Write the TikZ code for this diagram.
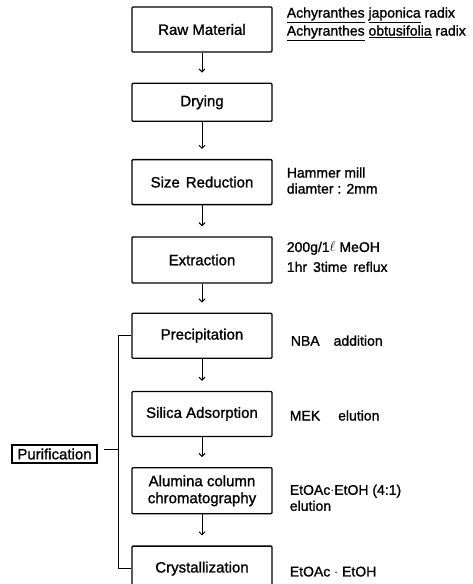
\documentclass[tikz,border=0pt]{standalone}
\usepackage{fontspec}
\setmainfont[FakeBold=1.2]{Liberation Sans}
\usetikzlibrary{arrows.meta,positioning,calc}

\begin{document}
\begin{tikzpicture}[
  x=1pt, y=1pt,
  box/.style={draw=black, line width=1.3pt, rounded corners=1pt, font=\fontsize{15}{17}\selectfont, align=center, minimum width=140pt, minimum height=45pt, inner sep=2pt},
  note/.style={font=\fontsize{14}{16}\selectfont, align=left, inner sep=0pt},
  arrow/.style={-{Straight Barb[length=3pt,width=6pt]}, line width=1pt, shorten >=10pt}]

\useasboundingbox (0,0) rectangle (473,-584);

% main process chain
\node[box] (raw) at (202,-29.5) {Raw Material};
\node[box, below=30pt of raw, minimum height=38pt] (dry) {Drying};
\node[box, below=37pt of dry] (size) {Size\hspace{6pt}Reduction};
\node[box, below=31pt of size, minimum height=46pt] (ext) {Extraction};
\node[box, below=29pt of ext] (prec) {Precipitation};
\node[box, below=32pt of prec] (sil) {Silica Adsorption};
\node[box, below=30pt of sil, minimum height=46pt] (alu) {Alumina column\\ chromatography};
\node[box, below=31pt of alu] (cry) {Crystallization};

% conditions on the right
\node[note, right=14pt of raw, yshift=5.5pt] (rawn)
  {\underline{Achyranthes} \underline{japonica} radix\\[2pt] \underline{Achyranthes} \underline{obtusifolia} radix};
\node[note, right=14pt of size, yshift=1.5pt] (sizen) {Hammer mill\\ diamter : 2mm};
\node[note, right=14pt of ext, yshift=3pt] (extn) {200g/1$\ell$ MeOH\\[4pt] 1hr\hspace{6pt}3time\hspace{6pt}reflux};
\node[note, right=18pt of prec, yshift=-5pt] (precn) {NBA\hspace{14pt}addition};
\node[note, right=17pt of sil, yshift=-1.5pt] (siln) {MEK\hspace{18pt}elution};
\node[note, right=17pt of alu, yshift=-7pt] (alun) {EtOAc$\cdot$EtOH (4:1)\\ elution};
\node[note, right=17pt of cry, yshift=-3pt] (cryn) {EtOAc $\cdot$ EtOH};

% purification bracket
\node[draw=black, line width=1.1pt, font=\fontsize{15}{17}\selectfont, minimum width=85pt, minimum height=18pt, inner xsep=3pt, inner ysep=1pt] (pur) at (54.5,-454) {Purification};
\coordinate (brk) at (118,-449);

\draw[arrow] (raw) -- (dry);
\draw[arrow] (dry) -- (size);
\draw[arrow] (size) -- (ext);
\draw[arrow] (ext) -- (prec);
\draw[arrow] (prec) -- (sil);
\draw[arrow] (sil) -- (alu);
\draw[arrow] (alu) -- (cry);

\draw[line width=1pt] (prec.west) -- (prec.west -| brk) -- (cry.west -| brk) -- (cry.west);
\draw[line width=1pt, shorten <=6pt] (pur.east |- brk) -- (brk);
\end{tikzpicture}
\end{document}
